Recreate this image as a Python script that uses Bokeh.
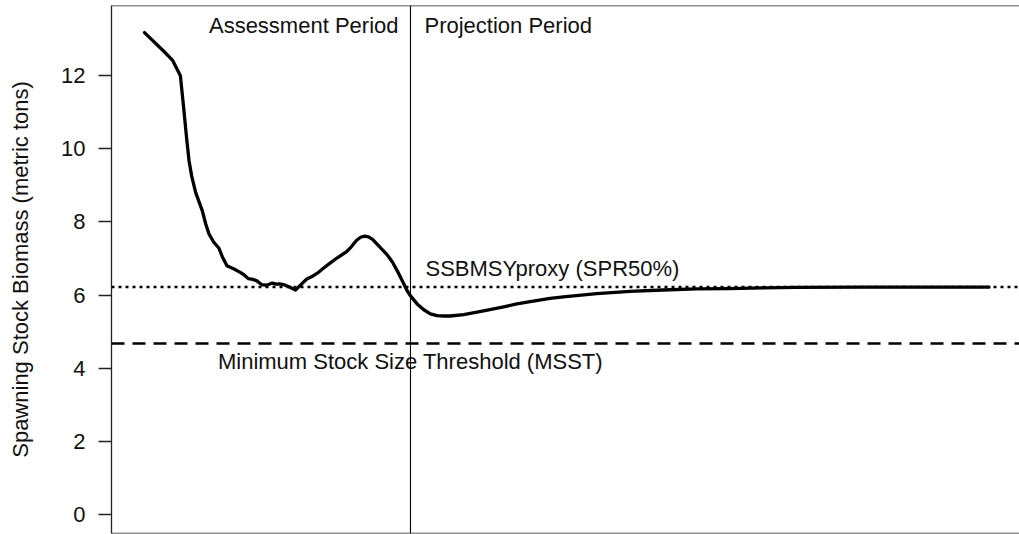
from bokeh.plotting import figure
from bokeh.models import Span, Label, Range1d, FixedTicker
from bokeh.embed import file_html
from bokeh.resources import INLINE

# ---- data ----
assess_years = [1982.0, 1984.9, 1986.2, 1987.1, 1987.4, 1987.9, 1988.3, 1988.7, 1989.1, 1989.7,
                1990.7, 1991.2, 1991.7, 1992.4, 1993.2, 1993.7, 1994.4, 1995.4, 1996.4, 1997.0,
                1997.6, 1998.3, 1998.9, 1999.6, 2000.4, 2001.2, 2001.8, 2002.3, 2002.9, 2003.8,
                2004.7, 2005.5, 2006.4, 2007.1, 2008.0, 2008.8, 2009.8, 2011.0, 2012.4, 2013.1,
                2013.9, 2014.5, 2015.1, 2015.7, 2016.3, 2017.3, 2018.5, 2019.3, 2020.2, 2020.8,
                2021.5, 2022.0]
assess_ssb = [13.17, 12.66, 12.42, 12.10, 11.99, 11.1, 10.35, 9.67, 9.25, 8.80,
              8.30, 7.95, 7.67, 7.45, 7.28, 7.05, 6.80, 6.72, 6.62, 6.55,
              6.45, 6.43, 6.39, 6.29, 6.27, 6.33, 6.30, 6.31, 6.29, 6.22,
              6.14, 6.28, 6.44, 6.50, 6.60, 6.72, 6.86, 7.02, 7.19, 7.32,
              7.50, 7.58, 7.61, 7.59, 7.52, 7.33, 7.10, 6.90, 6.60, 6.38,
              6.12, 5.98]
proj_years = [2023, 2024, 2025, 2026, 2027, 2028, 2030, 2033, 2036, 2038, 2040, 2043,
              2045, 2050, 2055, 2060, 2065, 2070, 2075, 2080, 2090, 2100, 2109]
proj_ssb = [5.76, 5.60, 5.49, 5.44, 5.43, 5.43, 5.47, 5.57, 5.68, 5.76, 5.82, 5.91,
            5.95, 6.04, 6.10, 6.14, 6.17, 6.18, 6.20, 6.21, 6.22, 6.22, 6.22]

ssb_msy_proxy = 6.22
msst = 4.68
boundary_year = 2022
y_ticks = [0, 2, 4, 6, 8, 10, 12]

y_label = "Spawning Stock Biomass (metric tons)"
assess_label = "Assessment Period"
proj_label = "Projection Period"
msy_label = "SSBMSYproxy (SPR50%)"
msst_label = "Minimum Stock Size Threshold (MSST)"

FONT = "Liberation Sans"
FS = "22px"

x_lo, x_hi = 1977.04, 2113.58
y_lo, y_hi = -0.51, 13.91

p = figure(width=1019, height=534, output_backend="svg", toolbar_location=None,
           x_range=Range1d(x_lo, x_hi), y_range=Range1d(y_lo, y_hi),
           x_axis_location=None,
           min_border_left=111, min_border_right=0, min_border_top=5, min_border_bottom=1)
p.outline_line_color = None
p.xgrid.visible = False
p.ygrid.visible = False
p.background_fill_color = "white"
p.border_fill_color = "white"

ax = p.yaxis[0]
ax.ticker = FixedTicker(ticks=y_ticks)
ax.axis_line_color = "#222222"
ax.axis_line_width = 1.3
ax.major_tick_line_color = "#222222"
ax.major_tick_line_width = 1.3
ax.major_tick_out = 13
ax.major_tick_in = 0
ax.minor_tick_out = 0
ax.minor_tick_in = 0
ax.major_label_standoff = 13
ax.major_label_text_font = FONT
ax.major_label_text_font_size = FS
ax.major_label_text_color = "#111111"
ax.axis_label = y_label
ax.axis_label_text_font = FONT
ax.axis_label_text_font_size = FS
ax.axis_label_text_font_style = "normal"
ax.axis_label_text_color = "#111111"
ax.axis_label_standoff = 25

# box borders top & bottom
p.add_layout(Span(location=y_hi, dimension="width", line_color="#222222", line_width=1.3))
p.add_layout(Span(location=y_lo, dimension="width", line_color="#222222", line_width=1.3))

# reference lines
p.add_layout(Span(location=ssb_msy_proxy, dimension="width", line_color="black",
                  line_width=2.5, line_dash="3 4"))
p.add_layout(Span(location=msst, dimension="width", line_color="black",
                  line_width=2.5, line_dash="13 8"))
p.add_layout(Span(location=boundary_year, dimension="height", line_color="black",
                  line_width=1.1))

# SSB trajectory
p.line(assess_years + proj_years, assess_ssb + proj_ssb, line_color="black",
       line_width=3.3, line_join="round", line_cap="round")

# labels
p.add_layout(Label(x=boundary_year, y=y_hi, x_offset=-12, y_offset=-19.5, text=assess_label,
                   text_align="right", text_baseline="alphabetic", text_font=FONT,
                   text_font_size=FS, text_color="#111111"))
p.add_layout(Label(x=boundary_year, y=y_hi, x_offset=14, y_offset=-19.5, text=proj_label,
                   text_align="left", text_baseline="alphabetic", text_font=FONT,
                   text_font_size=FS, text_color="#111111"))
p.add_layout(Label(x=boundary_year, y=ssb_msy_proxy, x_offset=15, y_offset=19, text=msy_label,
                   text_align="left", text_baseline="alphabetic", text_font=FONT,
                   text_font_size=FS, text_color="#111111"))
p.add_layout(Label(x=boundary_year, y=msst, x_offset=0, y_offset=-17.6, text=msst_label,
                   text_align="center", text_baseline="alphabetic", text_font=FONT,
                   text_font_size=FS, text_color="#111111"))

open("out.html", "w").write(file_html(p, INLINE))
